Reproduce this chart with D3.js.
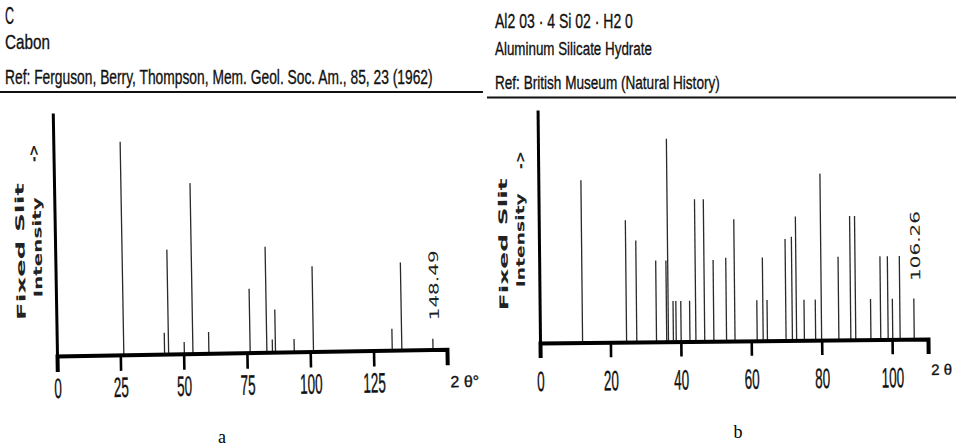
<!DOCTYPE html>
<html>
<head>
<meta charset="utf-8">
<script src="https://cdn.jsdelivr.net/npm/d3@7"></script>
<style>
  body { margin: 0; background: #fff; }
  svg { display: block; }
  .hdr { font-family: "Liberation Sans Narrow", "Liberation Sans", sans-serif; fill: #111; stroke: #111; stroke-width: 0.35px; }
  .ylab { font-family: "DejaVu Sans", sans-serif; font-weight: bold; font-size: 12px; fill: #222; }
  .tick text { font-family: "Liberation Sans Narrow", "Liberation Sans", sans-serif; fill: #111; stroke: #111; stroke-width: 0.4px; }
</style>
</head>
<body>
<div id="wrapper"></div>
<script>
// panel a : carbon
const leftAngles = [26.4, 42.5, 44.1, 50.3, 53.7, 60.0, 76.3, 82.9, 85.1, 86.3, 93.7, 101.3, 132.4, 136.2, 148.5]
const leftIntensity = [100, 10, 49, 5.5, 80, 10, 30, 49.5, 6, 20, 6, 40, 10, 41, 5]
const leftTicks = [0, 25, 50, 75, 100, 125]
const leftHeader = ["C", "Cabon", "Ref: Ferguson, Berry, Thompson, Mem. Geol. Soc. Am., 85, 23 (1962)"]
const leftLastPeak = "148.49"

// panel b : aluminium silicate hydrate
const rightAngles = [12.1, 24.6, 27.5, 33.1, 36.0, 36.5, 37.9, 38.7, 40.1, 42.6, 44.3, 46.8, 49.4, 53.0, 55.4,
  61.7, 63.4, 64.6, 69.9, 71.7, 72.9, 75.1, 78.3, 80.0, 84.9, 88.3, 89.7, 94.0, 96.8, 98.9, 100.2, 102.3, 106.3]
const rightIntensity = [80, 60, 50, 40, 40, 100, 20, 20, 20, 20, 70, 70, 40, 41, 60,
  20, 41, 20, 50, 51, 61, 20, 20, 82, 41, 61, 61, 20, 41, 41, 20, 41, 20]
const rightTicks = [0, 20, 40, 60, 80, 100]
const rightHeader = ["Al2 03 · 4 Si 02 · H2 0", "Aluminum Silicate Hydrate", "Ref:  British Museum (Natural History)"]
const rightLastPeak = "106.26"

const yLabel = ["Fixed   Slit", "Intensity", "->"]

var svg = d3.select("#wrapper").append("svg")
  .attr("width", 956).attr("height", 448)

// headers (squeezed horizontally with a real transform so the boxes are narrow too)
function header(lines, x, ys, sizes, widths, lineY, lx1, lx2) {
  var g = svg.append("g")
  g.selectAll("text").data(lines).join("text")
    .attr("class", "hdr")
    .style("font-size", (d, i) => sizes[i] + "px")
    .text(d => d)
    .attr("transform", function(d, i) {
      var w = this.getComputedTextLength()
      return `translate(${x},${ys[i]}) scale(${widths[i] / w},1)`
    })
  g.append("line")
    .attr("x1", lx1).attr("x2", lx2).attr("y1", lineY).attr("y2", lineY)
    .attr("stroke", "#111").attr("stroke-width", 2)
}
header(leftHeader, 5, [24, 49, 84], [23, 20, 20], [9, 45, 428], 92, 0, 483)
header(rightHeader, 495, [28, 55, 89], [21, 19, 19], [138, 157, 225], 97.5, 487, 956)

function drawPanel(o) {
  var bounds = svg.append("g")
    .attr("transform", `translate(${o.ox},${o.oy}) rotate(${o.rot})`)
  var xScale = d3.scaleLinear().domain([0, o.xMax]).range([0, o.width])
  var yScale = d3.scaleLinear().domain([0, o.yMax]).range([0, -o.height])

  // peaks
  bounds.selectAll("line.peak")
    .data(d3.zip(o.angles, o.intensity))
    .join("line")
      .attr("class", "peak")
      .attr("x1", d => xScale(d[0])).attr("x2", d => xScale(d[0]))
      .attr("y1", 0).attr("y2", d => yScale(d[1]))
      .attr("stroke", "#2a2a2a").attr("stroke-width", 1.3)

  // axes
  var xAxis = bounds.append("g")
    .call(d3.axisBottom(xScale).tickValues(o.ticks).tickSizeOuter(0).tickSize(o.tickLen).tickPadding(o.pad))
  xAxis.select(".domain").attr("stroke", "#000").attr("stroke-width", 4)
  xAxis.selectAll(".tick line").attr("stroke", "#000").attr("stroke-width", 2.6)
    .style("opacity", d => d === 0 ? 0 : 1)
  xAxis.selectAll(".tick text")
    .style("font-size", "28px")
    .attr("dy", "0.75em")
    .attr("textLength", d => String(d).length * 7.5)
    .attr("lengthAdjust", "spacingAndGlyphs")

  var yAxis = bounds.append("g")
    .call(d3.axisLeft(yScale).tickValues([]).tickSizeOuter(0))
  yAxis.select(".domain").attr("stroke", "#000").attr("stroke-width", 3)

  // y label
  bounds.append("text").attr("class", "ylab")
    .attr("transform", `translate(${o.lab1[0]},${o.lab1[1]}) rotate(-90)`)
    .attr("text-anchor", "middle").attr("dominant-baseline", "middle")
    .attr("textLength", o.lab1[2]).attr("lengthAdjust", "spacingAndGlyphs")
    .text(yLabel[0])
  bounds.append("text").attr("class", "ylab")
    .attr("transform", `translate(${o.lab2[0]},${o.lab2[1]}) rotate(-90)`)
    .attr("text-anchor", "middle").attr("dominant-baseline", "middle")
    .attr("textLength", o.lab2[2]).attr("lengthAdjust", "spacingAndGlyphs")
    .text(yLabel[1])
  bounds.append("text").attr("class", "ylab")
    .attr("transform", `translate(${o.arrow[0]},${o.arrow[1]}) rotate(-90)`)
    .attr("text-anchor", "middle").attr("dominant-baseline", "middle")
    .style("font-size", "14px")
    .text(yLabel[2])

  // last peak value
  var last = o.angles[o.angles.length - 1]
  bounds.append("text")
    .attr("transform", `translate(${xScale(last) + o.lastDx},${o.lastY}) rotate(-90)`)
    .attr("text-anchor", "middle").attr("dominant-baseline", "middle")
    .style("font-family", "DejaVu Sans, sans-serif").style("font-size", "13px").style("fill", "#222")
    .attr("textLength", 70).attr("lengthAdjust", "spacingAndGlyphs")
    .text(o.lastLabel)

  // x label
  bounds.append("text")
    .attr("x", o.width + o.xlabDx).attr("y", o.xlabDy)
    .attr("class", "hdr").style("font-size", o.xlabSize + "px")
    .text(o.xlab)

  // caption
  svg.append("text")
    .attr("x", o.cap[0]).attr("y", o.cap[1])
    .attr("text-anchor", "middle")
    .style("font-family", "Liberation Serif, serif").style("font-size", "18px")
    .text(o.cap[2])
}

drawPanel({
  ox: 57, oy: 356, rot: -1, width: 390, height: 243,
  xMax: 154, yMax: 114,
  angles: leftAngles, intensity: leftIntensity, ticks: leftTicks, tickLen: 16, pad: 5,
  lab1: [-34, -105, 137], lab2: [-17, -109, 100], arrow: [-19, -203],
  lastLabel: leftLastPeak, lastDx: 3, lastY: -64,
  xlab: "2 θ°", xlabDx: 3, xlabDy: 38, xlabSize: 16,
  cap: [222, 443, "a"]
})

drawPanel({
  ox: 540, oy: 343, rot: -0.6, width: 388, height: 233,
  xMax: 110.2, yMax: 114.8,
  angles: rightAngles, intensity: rightIntensity, ticks: rightTicks, tickLen: 15, pad: 12,
  lab1: [-35, -99, 132], lab2: [-18, -103, 94], arrow: [-17, -183],
  lastLabel: rightLastPeak, lastDx: 3, lastY: -93,
  xlab: "2 θ", xlabDx: 3, xlabDy: 36, xlabSize: 15,
  cap: [738, 438, "b"]
})
</script>
</body>
</html>
